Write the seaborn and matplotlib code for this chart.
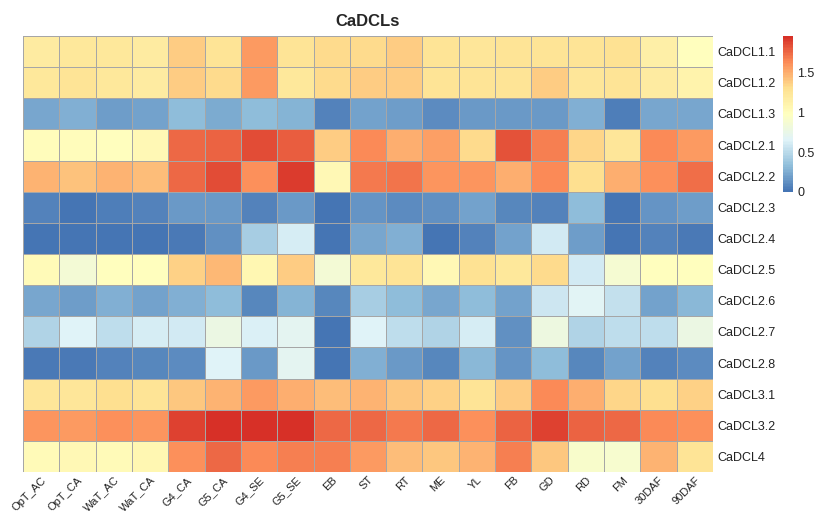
import numpy as np
import pandas as pd
import matplotlib
matplotlib.use('Agg')
import matplotlib.pyplot as plt
import seaborn as sns
from matplotlib.colors import LinearSegmentedColormap

sns.set_theme(style='white')
plt.rcParams['font.family'] = ['Liberation Sans', 'DejaVu Sans']

# Tissues / conditions (columns) and genes (rows)
samples = ['OpT_AC', 'OpT_CA', 'WaT_AC', 'WaT_CA', 'G4_CA', 'G5_CA', 'G4_SE', 'G5_SE',
           'EB', 'ST', 'RT', 'ME', 'YL', 'FB', 'GD', 'RD', 'FM', '30DAF', '90DAF']
genes = ['CaDCL1.1', 'CaDCL1.2', 'CaDCL1.3', 'CaDCL2.1', 'CaDCL2.2', 'CaDCL2.3', 'CaDCL2.4',
         'CaDCL2.5', 'CaDCL2.6', 'CaDCL2.7', 'CaDCL2.8', 'CaDCL3.1', 'CaDCL3.2', 'CaDCL4']

# Relative expression
dcl1_1 = [1.19, 1.22, 1.22, 1.19, 1.39, 1.27, 1.57, 1.27, 1.33, 1.32, 1.39, 1.27, 1.25, 1.27, 1.27, 1.27, 1.29, 1.15, 0.98]
dcl1_2 = [1.22, 1.27, 1.22, 1.19, 1.39, 1.32, 1.58, 1.22, 1.33, 1.39, 1.39, 1.27, 1.27, 1.27, 1.39, 1.25, 1.27, 1.19, 1.10]
dcl1_3 = [0.22, 0.27, 0.19, 0.21, 0.32, 0.25, 0.32, 0.29, 0.07, 0.21, 0.18, 0.10, 0.16, 0.16, 0.16, 0.26, 0.04, 0.23, 0.22]
dcl2_1 = [1.00, 1.00, 0.99, 1.04, 1.745, 1.78, 1.855, 1.80, 1.39, 1.63, 1.49, 1.56, 1.33, 1.835, 1.68, 1.35, 1.25, 1.63, 1.57]
dcl2_2 = [1.48, 1.42, 1.47, 1.45, 1.76, 1.85, 1.61, 1.92, 1.05, 1.69, 1.72, 1.60, 1.60, 1.50, 1.64, 1.30, 1.50, 1.61, 1.74]
dcl2_3 = [0.07, 0.00, 0.05, 0.07, 0.17, 0.16, 0.07, 0.16, 0.00, 0.15, 0.10, 0.12, 0.20, 0.09, 0.07, 0.33, 0.00, 0.15, 0.19]
dcl2_4 = [0.01, 0.00, 0.00, 0.01, 0.03, 0.13, 0.43, 0.625, 0.00, 0.22, 0.27, 0.00, 0.06, 0.21, 0.59, 0.19, 0.00, 0.06, 0.03]
dcl2_5 = [1.03, 0.86, 0.98, 0.98, 1.36, 1.46, 1.06, 1.39, 0.86, 1.22, 1.27, 1.05, 1.29, 1.22, 1.33, 0.60, 0.87, 0.99, 0.98]
dcl2_6 = [0.23, 0.18, 0.27, 0.20, 0.27, 0.33, 0.08, 0.28, 0.08, 0.43, 0.325, 0.23, 0.33, 0.20, 0.58, 0.68, 0.54, 0.21, 0.31]
dcl2_7 = [0.47, 0.65, 0.52, 0.61, 0.60, 0.77, 0.63, 0.70, 0.00, 0.66, 0.52, 0.46, 0.61, 0.12, 0.79, 0.46, 0.52, 0.52, 0.78]
dcl2_8 = [0.02, 0.02, 0.06, 0.09, 0.10, 0.65, 0.16, 0.69, 0.00, 0.26, 0.17, 0.09, 0.31, 0.15, 0.32, 0.08, 0.21, 0.06, 0.11]
dcl3_1 = [1.25, 1.25, 1.30, 1.27, 1.40, 1.47, 1.57, 1.49, 1.45, 1.48, 1.40, 1.37, 1.27, 1.39, 1.63, 1.49, 1.35, 1.30, 1.37]
dcl3_2 = [1.60, 1.58, 1.62, 1.60, 1.90, 1.945, 1.96, 1.96, 1.745, 1.76, 1.69, 1.75, 1.61, 1.77, 1.89, 1.77, 1.745, 1.63, 1.61]
dcl4 = [1.02, 1.04, 1.02, 1.06, 1.62, 1.76, 1.63, 1.68, 1.68, 1.58, 1.44, 1.40, 1.47, 1.68, 1.40, 0.91, 0.90, 1.48, 1.27]

data = pd.DataFrame([dcl1_1, dcl1_2, dcl1_3, dcl2_1, dcl2_2, dcl2_3, dcl2_4, dcl2_5,
                     dcl2_6, dcl2_7, dcl2_8, dcl3_1, dcl3_2, dcl4],
                    index=genes, columns=samples)

# pheatmap-like palette (reversed RdYlBu, 7 colours, 100 steps)
cmap = LinearSegmentedColormap.from_list(
    'rdylbu_rev',
    ['#4575B4', '#91BFDB', '#E0F3F8', '#FFFFBF', '#FEE090', '#FC8D59', '#D73027'],
    N=100)

W, H = 817, 514
fig = plt.figure(figsize=(W / 100, H / 100), dpi=100)
ax = fig.add_axes([23 / W, 1 - 472 / H, 690 / W, 436 / H])
cax = fig.add_axes([783 / W, 1 - 192 / H, 10 / W, 156 / H])

sns.heatmap(data, ax=ax, cbar_ax=cax, cmap=cmap, vmin=0,
            linewidths=0.6, linecolor='#A6A6A6',
            cbar_kws={'ticks': [0, 0.5, 1, 1.5]})

ax.set_title('CaDCLs', fontsize=12, fontweight='bold', pad=7)
ax.yaxis.tick_right()
ax.tick_params(length=0, colors='#222222')
ax.tick_params(axis='y', pad=3, labelsize=9)
ax.tick_params(axis='x', pad=2, labelsize=8)
plt.setp(ax.get_yticklabels(), rotation=0, ha='left')
plt.setp(ax.get_xticklabels(), rotation=45, ha='right', va='top',
         rotation_mode='anchor')
ax.set_xlabel('')
ax.set_ylabel('')

cax.tick_params(length=0, labelsize=9, pad=3, colors='#222222')
cax.set_yticklabels(['0', '0.5', '1', '1.5'])
cbar = ax.collections[0].colorbar
cbar.outline.set_visible(False)

fig.savefig('out.png', dpi=100, facecolor='white')
